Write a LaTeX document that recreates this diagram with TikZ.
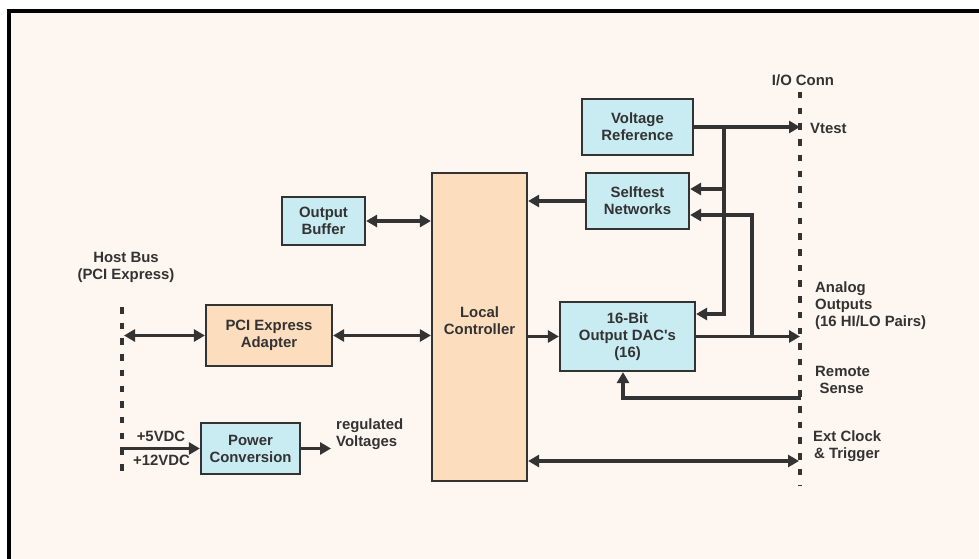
\documentclass[tikz,border=0pt]{standalone}
\usepackage{fontspec}
\setmainfont{Liberation Sans}
\usetikzlibrary{arrows.meta}
\definecolor{cream}{HTML}{FEF6F0}
\definecolor{boxblue}{HTML}{C8ECF2}
\definecolor{boxpeach}{HTML}{FCDDBE}
\definecolor{ink}{HTML}{333333}
\begin{document}
\begin{tikzpicture}[x=1pt,y=-1pt,
  lbl/.style={font=\bfseries\fontsize{14.9}{17}\selectfont, text=ink, inner sep=0pt},
  blockbox/.style={lbl, draw=ink, line width=2.2pt, align=center},
  bluebox/.style={blockbox, fill=boxblue},
  peachbox/.style={blockbox, fill=boxpeach},
  conn/.style={draw=ink, line width=3.2pt},
  arr/.style={conn, -{Triangle[length=11pt,width=12pt]}},
  darr/.style={conn, {Triangle[length=11pt,width=12pt]}-{Triangle[length=11pt,width=12pt]}},
  busline/.style={draw=ink, line width=4pt, dash pattern=on 6.5pt off 9.2pt}
]
\useasboundingbox (0,0) rectangle (979,559);
\clip (0,0) rectangle (979,559);
\fill[white] (0,0) rectangle (979,559);
\draw[line width=4pt, fill=cream] (9,11.5) rectangle (1200,800);

% boxes
\node[bluebox, minimum width=111pt, minimum height=56pt] (VR) at (637.5,127) {Voltage\\Reference};
\node[bluebox, minimum width=103pt, minimum height=56pt] (ST) at (637.5,201) {Selftest\\Networks};
\node[bluebox, minimum width=135pt, minimum height=69pt] (DAC) at (627.5,336.5) {16-Bit\\Output DAC\textquotesingle s\\(16)};
\node[peachbox, minimum width=95pt, minimum height=308pt] (LC) at (479.5,327) {};
\node[lbl, align=center] (LCt) at (479.5,320.5) {Local\\Controller};
\node[bluebox, minimum width=83pt, minimum height=48pt] (OB) at (323.5,221) {Output\\Buffer};
\node[peachbox, minimum width=126pt, minimum height=61pt] (PCI) at (269,335.5) {PCI Express\\Adapter};
\node[bluebox, minimum width=99pt, minimum height=51pt] (PW) at (250.5,448.5) {Power\\Conversion};

% bus lines
\coordinate (iotop) at (800,92);
\coordinate (iobot) at (800,486);
\draw[busline] (iotop) -- (iobot);
\coordinate (hbtop) at (122,307);
\coordinate (hbbot) at (122,471);
\draw[busline] (hbtop) -- (hbbot);

% connectors
\draw[arr] (VR.east) -- (VR.east -| iotop);
\coordinate (ja) at (724,127);
\coordinate (jb) at (724,314);
\coordinate (jc) at (724,189);
\draw[arr] (ja) -- (jb) -- (jb -| DAC.east);
\draw[arr] (jc) -- (jc -| ST.east);
\coordinate (jd) at (752,215);
\coordinate (je) at (752,336.5);
\draw[arr] (je) -- (jd) -- (jd -| ST.east);
\draw[arr] (DAC.east) -- (DAC.east -| iotop);
\draw[arr] (ST.west) -- (ST.west -| LC.east);
\draw[arr] (LC.east |- DAC.west) -- (DAC.west);
\coordinate (ec) at (799,461);
\draw[darr] (ec -| LC.east) -- (ec);
\coordinate (rs) at (801,398);
\coordinate (rs2) at (623,398);
\draw[arr] (rs) -- (rs2) -- (rs2 |- DAC.south);
\draw[darr] (OB.east) -- (OB.east -| LC.west);
\draw[darr] (PCI.east) -- (PCI.east -| LC.west);
\coordinate (hb) at (124,335.5);
\draw[darr] (hb) -- (PCI.west);
\coordinate (pw0) at (122,453);
\draw[arr] (pw0) |- (PW.west);
\coordinate (rv) at (331,448.5);
\draw[arr] (PW.east) -- (rv);

% labels
\node[lbl, anchor=base] (io) at (803,86) {I/O Conn};
\node[lbl, anchor=base west] (vt) at (810,133) {Vtest};
\node[lbl, anchor=base west, align=left] (ao) at (815,326) {Analog\\Outputs\\(16 HI/LO Pairs)};
\node[lbl, anchor=base west, align=left] (rsl) at (815,393) {Remote\\\hspace*{4.5pt}Sense};
\node[lbl, anchor=base west, align=left] (ecl) at (813,458) {Ext Clock\\\hspace*{1pt}\& Trigger};
\node[lbl, anchor=base, align=center] (hbl) at (126,279) {Host Bus\\(PCI Express)};
\node[lbl, anchor=base] (v5) at (161,441) {+5VDC};
\node[lbl, anchor=base] (v12) at (161.5,465) {+12VDC};
\node[lbl, anchor=base west, align=left] (rvl) at (336,446) {regulated\\Voltages};
\end{tikzpicture}
\end{document}
